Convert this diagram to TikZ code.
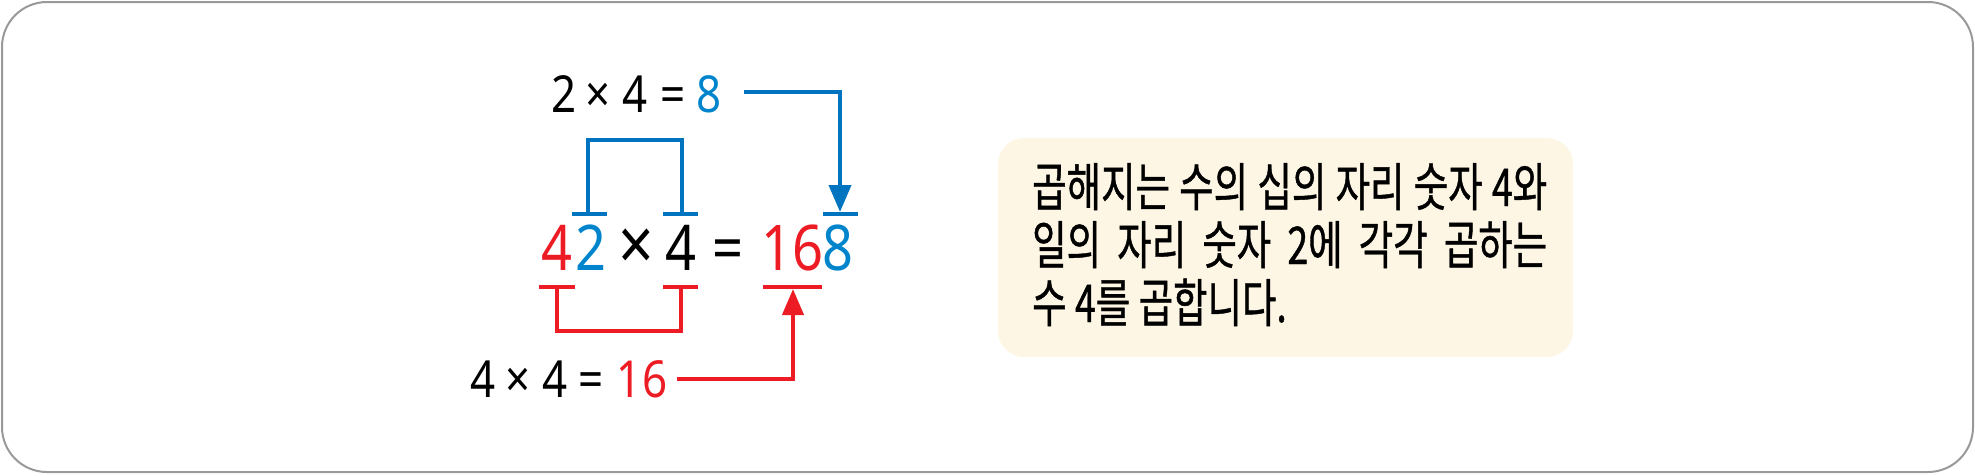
\documentclass[tikz,border=0pt]{standalone}
\usepackage{fontspec}
\setmainfont{Noto Sans}
\newfontfamily\numf[FakeStretch=0.86]{Noto Sans}
\newfontfamily\kr[FakeStretch=0.72,FakeBold=0.8]{Noto Sans CJK KR}
\usetikzlibrary{arrows.meta}
\definecolor{rd}{HTML}{ED1C24}
\definecolor{bl}{HTML}{0084CC}
\definecolor{bll}{HTML}{0074BF}
\definecolor{frame}{HTML}{999999}
\definecolor{cream}{HTML}{FDF6E5}
\newcommand{\eqsign}{{\bfseries =}}
\tikzset{
  dg/.style={anchor=base, inner sep=0pt, font=\numf\fontsize{51}{51}\selectfont},
  dgbig/.style={anchor=base, inner sep=0pt, font=\numf\fontsize{63}{63}\selectfont},
  bline/.style={draw=bll, line width=4pt},
  rline/.style={draw=rd, line width=4pt},
  barrow/.style={bline, -{Triangle[length=27pt,width=22pt]}},
  rarrow/.style={rline, -{Triangle[length=26pt,width=21pt]}},
  krtext/.style={anchor=base west, inner sep=0pt, font=\kr\fontsize{52}{58}\selectfont}
}
\begin{document}
\begin{tikzpicture}[x=1pt,y=-1pt]
\useasboundingbox (0,0) rectangle (1975,475);
\draw[frame, line width=2pt, rounded corners=45pt] (2,2) rectangle (1973,472);
\fill[cream, rounded corners=26pt] (998,138) rectangle (1573,357);

% top line 2 x 4 = 8
\node[dg] (t2) at (564,112) {2};
\node[dg] (tx) at (598,112) {×};
\node[dg] (t4) at (635,112) {4};
\node[dg] (teq) at (673,112) {\eqsign};
\node[dg, text=bl] (t8) at (709,112) {8};

% middle line 42 x 4 = 168
\node[dgbig, text=rd] (m4) at (557,270) {4};
\node[dgbig, text=bl] (m2) at (591,270) {2};
\node[dgbig, scale=1.15] (mx) at (636,270) {×};
\node[dgbig] (mf) at (681,270) {4};
\node[dgbig] (meq) at (728,270) {\eqsign};
\node[dgbig, text=rd] (m16) at (792,270) {16};
\node[dgbig, text=bl] (m8) at (838,270) {8};

% bottom line 4 x 4 = 16
\node[dg] (b4) at (483,397) {4};
\node[dg] (bx) at (518,397) {×};
\node[dg] (bf) at (555,397) {4};
\node[dg] (beq) at (591,397) {\eqsign};
\node[dg, text=rd] (b16) at (642,397) {16};

% blue bracket and arrow
\coordinate (bt1l) at (572,214); \coordinate (bt1r) at (607,214);
\coordinate (bt2l) at (663,214); \coordinate (bt2r) at (698,214);
\coordinate (bt3l) at (823,214); \coordinate (bt3r) at (858,214);
\coordinate (bb1) at (588,214); \coordinate (bb2) at (682,214);
\coordinate (bc1) at (588,140); \coordinate (bc2) at (682,140);
\coordinate (ba0) at (744,92); \coordinate (ba1) at (840,92); \coordinate (ba2) at (840,212);
\draw[bline] (bt1l) -- (bt1r);
\draw[bline] (bt2l) -- (bt2r);
\draw[bline] (bt3l) -- (bt3r);
\draw[bline] (bb1) -- (bc1) -- (bc2) -- (bb2);
\draw[barrow] (ba0) -- (ba1) -- (ba2);

% red bracket and arrow
\coordinate (rt1l) at (539,287); \coordinate (rt1r) at (575,287);
\coordinate (rt2l) at (663,287); \coordinate (rt2r) at (698,287);
\coordinate (rt3l) at (763,287); \coordinate (rt3r) at (822,287);
\coordinate (rb1) at (557,287); \coordinate (rb2) at (681,287);
\coordinate (rc1) at (557,331); \coordinate (rc2) at (681,331);
\coordinate (ra0) at (677,379); \coordinate (ra1) at (793,379); \coordinate (ra2) at (793,289);
\draw[rline] (rt1l) -- (rt1r);
\draw[rline] (rt2l) -- (rt2r);
\draw[rline] (rt3l) -- (rt3r);
\draw[rline] (rb1) -- (rc1) -- (rc2) -- (rb2);
\draw[rarrow] (ra0) -- (ra1) -- (ra2);

% explanation text
\node[krtext] (k1) at (1032,206) {\makebox[515pt][s]{곱해지는 수의 십의 자리 숫자 4와}};
\node[krtext] (k2) at (1032,264) {\makebox[515pt][s]{일의 자리 숫자 2에 각각 곱하는}};
\node[krtext] (k3) at (1032,322) {수 4를 곱합니다.};
\end{tikzpicture}
\end{document}
